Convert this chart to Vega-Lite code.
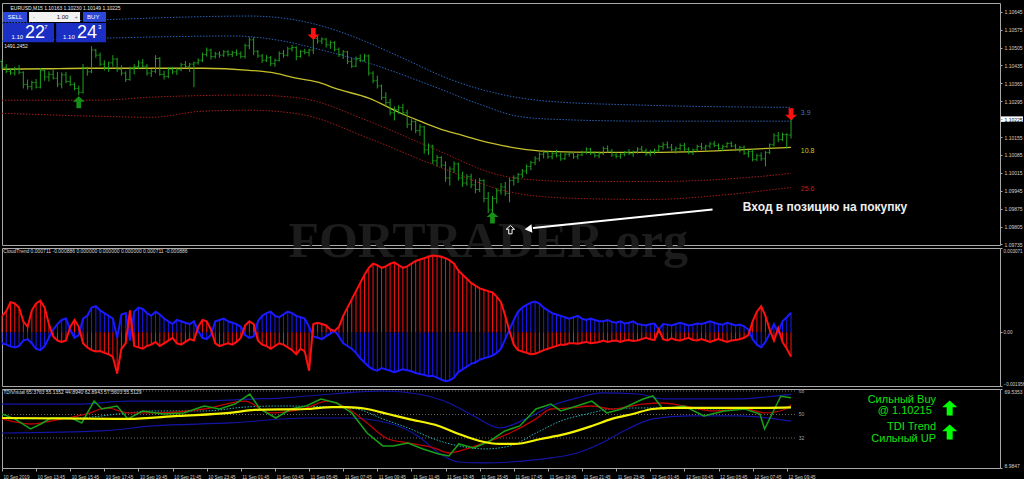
{
"$schema":"https://vega.github.io/schema/vega-lite/v6.json",
"background":"#000000",
"padding":{"left":-3,"top":2,"right":0,"bottom":0},
"spacing":3,
"bounds":"flush",
"config":{"view":{"stroke":"#a8a8a8","strokeWidth":1},"axis":{"labelFont":"Liberation Sans","labelFontSize":5,"labelColor":"#d0d0d0","tickColor":"#a8a8a8","domainColor":"#a8a8a8","grid":false,"tickSize":2,"labelPadding":2,"title":null}},
"datasets":{
"bars":[
{"i":0,"o":1.1045,"h":1.10458,"l":1.1042,"c":1.10428},{"i":1,"o":1.10428,"h":1.1044,"l":1.10405,"c":1.10412},{"i":2,"o":1.10412,"h":1.10425,"l":1.10398,"c":1.10405},{"i":3,"o":1.10405,"h":1.1043,"l":1.10395,"c":1.1042},{"i":4,"o":1.1042,"h":1.10436,"l":1.104,"c":1.10408},{"i":5,"o":1.10408,"h":1.10412,"l":1.10345,"c":1.1036},{"i":6,"o":1.1036,"h":1.1038,"l":1.1034,"c":1.10352},{"i":7,"o":1.10352,"h":1.10375,"l":1.10338,"c":1.10368},{"i":8,"o":1.10368,"h":1.10382,"l":1.10345,"c":1.1035},{"i":9,"o":1.1035,"h":1.10425,"l":1.10345,"c":1.10415},
{"i":10,"o":1.10415,"h":1.1042,"l":1.10375,"c":1.1039},{"i":11,"o":1.1039,"h":1.10412,"l":1.10372,"c":1.104},{"i":12,"o":1.104,"h":1.10418,"l":1.1038,"c":1.10385},{"i":13,"o":1.10385,"h":1.1041,"l":1.1035,"c":1.10362},{"i":14,"o":1.10362,"h":1.10408,"l":1.10345,"c":1.10398},{"i":15,"o":1.10398,"h":1.1041,"l":1.10365,"c":1.10372},{"i":16,"o":1.10372,"h":1.10395,"l":1.10355,"c":1.1036},{"i":17,"o":1.1036,"h":1.10368,"l":1.10338,"c":1.10345},{"i":18,"o":1.10345,"h":1.10356,"l":1.10318,"c":1.1033},{"i":19,"o":1.1033,"h":1.1044,"l":1.10325,"c":1.10425},
{"i":20,"o":1.10425,"h":1.1043,"l":1.10395,"c":1.1041},{"i":21,"o":1.1041,"h":1.1051,"l":1.10405,"c":1.10495},{"i":22,"o":1.10495,"h":1.105,"l":1.10465,"c":1.10475},{"i":23,"o":1.10475,"h":1.10485,"l":1.10432,"c":1.1044},{"i":24,"o":1.1044,"h":1.10455,"l":1.10415,"c":1.10425},{"i":25,"o":1.10425,"h":1.1045,"l":1.1041,"c":1.10445},{"i":26,"o":1.10445,"h":1.10475,"l":1.1043,"c":1.1046},{"i":27,"o":1.1046,"h":1.10465,"l":1.1041,"c":1.1042},{"i":28,"o":1.1042,"h":1.10435,"l":1.10395,"c":1.10405},{"i":29,"o":1.10405,"h":1.10412,"l":1.1037,"c":1.1038},
{"i":30,"o":1.1038,"h":1.1043,"l":1.10375,"c":1.10422},{"i":31,"o":1.10422,"h":1.1044,"l":1.104,"c":1.1043},{"i":32,"o":1.1043,"h":1.10455,"l":1.1042,"c":1.10445},{"i":33,"o":1.10445,"h":1.1046,"l":1.10425,"c":1.10432},{"i":34,"o":1.10432,"h":1.1044,"l":1.10395,"c":1.10405},{"i":35,"o":1.10405,"h":1.1042,"l":1.1039,"c":1.10412},{"i":36,"o":1.10412,"h":1.10475,"l":1.10405,"c":1.10462},{"i":37,"o":1.10462,"h":1.10468,"l":1.10395,"c":1.104},{"i":38,"o":1.104,"h":1.10415,"l":1.1038,"c":1.10392},{"i":39,"o":1.10392,"h":1.10428,"l":1.10385,"c":1.1042},
{"i":40,"o":1.1042,"h":1.1043,"l":1.104,"c":1.1041},{"i":41,"o":1.1041,"h":1.10425,"l":1.10398,"c":1.10418},{"i":42,"o":1.10418,"h":1.10445,"l":1.10412,"c":1.10438},{"i":43,"o":1.10438,"h":1.10452,"l":1.10425,"c":1.1043},{"i":44,"o":1.1043,"h":1.10445,"l":1.1041,"c":1.1044},{"i":45,"o":1.1044,"h":1.1045,"l":1.1035,"c":1.10445},{"i":46,"o":1.10445,"h":1.10462,"l":1.10438,"c":1.10455},{"i":47,"o":1.10455,"h":1.10485,"l":1.10448,"c":1.10478},{"i":48,"o":1.10478,"h":1.10505,"l":1.1047,"c":1.10495},{"i":49,"o":1.10495,"h":1.105,"l":1.10458,"c":1.1047},
{"i":50,"o":1.1047,"h":1.10488,"l":1.10462,"c":1.1048},{"i":51,"o":1.1048,"h":1.1049,"l":1.10465,"c":1.10475},{"i":52,"o":1.10475,"h":1.10495,"l":1.10468,"c":1.10488},{"i":53,"o":1.10488,"h":1.10495,"l":1.1047,"c":1.10478},{"i":54,"o":1.10478,"h":1.10492,"l":1.10468,"c":1.10485},{"i":55,"o":1.10485,"h":1.10498,"l":1.10472,"c":1.1048},{"i":56,"o":1.1048,"h":1.1049,"l":1.10462,"c":1.1047},{"i":57,"o":1.1047,"h":1.1052,"l":1.10462,"c":1.10512},{"i":58,"o":1.10512,"h":1.10545,"l":1.10498,"c":1.10535},{"i":59,"o":1.10535,"h":1.10545,"l":1.10475,"c":1.1049},
{"i":60,"o":1.1049,"h":1.10495,"l":1.10465,"c":1.10472},{"i":61,"o":1.10472,"h":1.1048,"l":1.10445,"c":1.10455},{"i":62,"o":1.10455,"h":1.10475,"l":1.10448,"c":1.10465},{"i":63,"o":1.10465,"h":1.10472,"l":1.10432,"c":1.10442},{"i":64,"o":1.10442,"h":1.10462,"l":1.1043,"c":1.10455},{"i":65,"o":1.10455,"h":1.1049,"l":1.1045,"c":1.10482},{"i":66,"o":1.10482,"h":1.10495,"l":1.10465,"c":1.10475},{"i":67,"o":1.10475,"h":1.10508,"l":1.1047,"c":1.105},{"i":68,"o":1.105,"h":1.10515,"l":1.1049,"c":1.10505},{"i":69,"o":1.10505,"h":1.1051,"l":1.10455,"c":1.1047},
{"i":70,"o":1.1047,"h":1.10495,"l":1.10465,"c":1.1049},{"i":71,"o":1.1049,"h":1.105,"l":1.10478,"c":1.10485},{"i":72,"o":1.10485,"h":1.105,"l":1.1047,"c":1.10495},{"i":73,"o":1.10495,"h":1.10545,"l":1.1048,"c":1.1054},{"i":74,"o":1.1054,"h":1.10552,"l":1.1052,"c":1.1053},{"i":75,"o":1.1053,"h":1.10545,"l":1.10518,"c":1.10538},{"i":76,"o":1.10538,"h":1.10542,"l":1.10505,"c":1.10515},{"i":77,"o":1.10515,"h":1.10532,"l":1.105,"c":1.10525},{"i":78,"o":1.10525,"h":1.1053,"l":1.1049,"c":1.10498},{"i":79,"o":1.10498,"h":1.10505,"l":1.10468,"c":1.10478},
{"i":80,"o":1.10478,"h":1.10495,"l":1.1046,"c":1.10488},{"i":81,"o":1.10488,"h":1.10492,"l":1.1044,"c":1.1045},{"i":82,"o":1.1045,"h":1.10465,"l":1.10425,"c":1.10432},{"i":83,"o":1.10432,"h":1.1047,"l":1.10428,"c":1.10462},{"i":84,"o":1.10462,"h":1.10478,"l":1.10448,"c":1.10455},{"i":85,"o":1.10455,"h":1.1048,"l":1.1045,"c":1.10472},{"i":86,"o":1.10472,"h":1.10478,"l":1.10395,"c":1.10405},{"i":87,"o":1.10405,"h":1.10412,"l":1.10365,"c":1.10375},{"i":88,"o":1.10375,"h":1.10395,"l":1.10345,"c":1.10355},{"i":89,"o":1.10355,"h":1.1036,"l":1.103,"c":1.1031},
{"i":90,"o":1.1031,"h":1.1033,"l":1.10275,"c":1.1029},{"i":91,"o":1.1029,"h":1.10305,"l":1.1024,"c":1.1025},{"i":92,"o":1.1025,"h":1.10275,"l":1.1022,"c":1.10262},{"i":93,"o":1.10262,"h":1.1028,"l":1.10245,"c":1.1027},{"i":94,"o":1.1027,"h":1.10285,"l":1.1024,"c":1.1025},{"i":95,"o":1.1025,"h":1.10262,"l":1.1019,"c":1.10205},{"i":96,"o":1.10205,"h":1.10225,"l":1.1018,"c":1.10215},{"i":97,"o":1.10215,"h":1.1022,"l":1.1017,"c":1.1018},{"i":98,"o":1.1018,"h":1.10205,"l":1.1016,"c":1.10195},{"i":99,"o":1.10195,"h":1.10198,"l":1.1009,"c":1.10105},
{"i":100,"o":1.10105,"h":1.1013,"l":1.10085,"c":1.1012},{"i":101,"o":1.1012,"h":1.10125,"l":1.1005,"c":1.10062},{"i":102,"o":1.10062,"h":1.10085,"l":1.1004,"c":1.10075},{"i":103,"o":1.10075,"h":1.1008,"l":1.10035,"c":1.10045},{"i":104,"o":1.10045,"h":1.1006,"l":1.0998,"c":1.09995},{"i":105,"o":1.09995,"h":1.1004,"l":1.09965,"c":1.1003},{"i":106,"o":1.1003,"h":1.1006,"l":1.10015,"c":1.1005},{"i":107,"o":1.1005,"h":1.10055,"l":1.09985,"c":1.09995},{"i":108,"o":1.09995,"h":1.1002,"l":1.0996,"c":1.09975},{"i":109,"o":1.09975,"h":1.1001,"l":1.09965,"c":1.1},
{"i":110,"o":1.1,"h":1.10012,"l":1.09955,"c":1.09968},{"i":111,"o":1.09968,"h":1.0999,"l":1.09935,"c":1.0995},{"i":112,"o":1.0995,"h":1.09995,"l":1.0994,"c":1.09985},{"i":113,"o":1.09985,"h":1.0999,"l":1.099,"c":1.09915},{"i":114,"o":1.09915,"h":1.0994,"l":1.09858,"c":1.0987},{"i":115,"o":1.0987,"h":1.09925,"l":1.09862,"c":1.09915},{"i":116,"o":1.09915,"h":1.09955,"l":1.09895,"c":1.09945},{"i":117,"o":1.09945,"h":1.09975,"l":1.0993,"c":1.0996},{"i":118,"o":1.0996,"h":1.0998,"l":1.09925,"c":1.09935},{"i":119,"o":1.09935,"h":1.09995,"l":1.099,"c":1.09985},
{"i":120,"o":1.09985,"h":1.10005,"l":1.09965,"c":1.09995},{"i":121,"o":1.09995,"h":1.10015,"l":1.09975,"c":1.10008},{"i":122,"o":1.10008,"h":1.1003,"l":1.09995,"c":1.10022},{"i":123,"o":1.10022,"h":1.10048,"l":1.1001,"c":1.1004},{"i":124,"o":1.1004,"h":1.10062,"l":1.10025,"c":1.10055},{"i":125,"o":1.10055,"h":1.1008,"l":1.10045,"c":1.1007},{"i":126,"o":1.1007,"h":1.10095,"l":1.1006,"c":1.10088},{"i":127,"o":1.10088,"h":1.10105,"l":1.10072,"c":1.10095},{"i":128,"o":1.10095,"h":1.10102,"l":1.1007,"c":1.10078},{"i":129,"o":1.10078,"h":1.10098,"l":1.10068,"c":1.1009},
{"i":130,"o":1.1009,"h":1.10105,"l":1.10075,"c":1.10082},{"i":131,"o":1.10082,"h":1.10095,"l":1.10062,"c":1.1007},{"i":132,"o":1.1007,"h":1.10092,"l":1.10065,"c":1.10088},{"i":133,"o":1.10088,"h":1.101,"l":1.10078,"c":1.10092},{"i":134,"o":1.10092,"h":1.10098,"l":1.1007,"c":1.10078},{"i":135,"o":1.10078,"h":1.1009,"l":1.10068,"c":1.10085},{"i":136,"o":1.10085,"h":1.10102,"l":1.1008,"c":1.10095},{"i":137,"o":1.10095,"h":1.10115,"l":1.10088,"c":1.10108},{"i":138,"o":1.10108,"h":1.10112,"l":1.10085,"c":1.10092},{"i":139,"o":1.10092,"h":1.101,"l":1.10075,"c":1.10082},
{"i":140,"o":1.10082,"h":1.10098,"l":1.10072,"c":1.1009},{"i":141,"o":1.1009,"h":1.10118,"l":1.10085,"c":1.1011},{"i":142,"o":1.1011,"h":1.10122,"l":1.10095,"c":1.101},{"i":143,"o":1.101,"h":1.10108,"l":1.10078,"c":1.10085},{"i":144,"o":1.10085,"h":1.10095,"l":1.10072,"c":1.1008},{"i":145,"o":1.1008,"h":1.10092,"l":1.1007,"c":1.10088},{"i":146,"o":1.10088,"h":1.101,"l":1.1008,"c":1.10095},{"i":147,"o":1.10095,"h":1.10108,"l":1.10085,"c":1.1009},{"i":148,"o":1.1009,"h":1.10102,"l":1.10078,"c":1.10098},{"i":149,"o":1.10098,"h":1.10115,"l":1.1009,"c":1.10108},
{"i":150,"o":1.10108,"h":1.1012,"l":1.10095,"c":1.101},{"i":151,"o":1.101,"h":1.1011,"l":1.10082,"c":1.1009},{"i":152,"o":1.1009,"h":1.10105,"l":1.1008,"c":1.10098},{"i":153,"o":1.10098,"h":1.1011,"l":1.10088,"c":1.10102},{"i":154,"o":1.10102,"h":1.10125,"l":1.10095,"c":1.10118},{"i":155,"o":1.10118,"h":1.10135,"l":1.10105,"c":1.10125},{"i":156,"o":1.10125,"h":1.10138,"l":1.1011,"c":1.10115},{"i":157,"o":1.10115,"h":1.10128,"l":1.10098,"c":1.10105},{"i":158,"o":1.10105,"h":1.10118,"l":1.1009,"c":1.1011},{"i":159,"o":1.1011,"h":1.1013,"l":1.10102,"c":1.10122},
{"i":160,"o":1.10122,"h":1.10132,"l":1.101,"c":1.10108},{"i":161,"o":1.10108,"h":1.10115,"l":1.10088,"c":1.10095},{"i":162,"o":1.10095,"h":1.1011,"l":1.10085,"c":1.10105},{"i":163,"o":1.10105,"h":1.10125,"l":1.10098,"c":1.10118},{"i":164,"o":1.10118,"h":1.10132,"l":1.10105,"c":1.10112},{"i":165,"o":1.10112,"h":1.10125,"l":1.101,"c":1.1012},{"i":166,"o":1.1012,"h":1.10135,"l":1.1011,"c":1.10128},{"i":167,"o":1.10128,"h":1.1014,"l":1.10115,"c":1.10122},{"i":168,"o":1.10122,"h":1.1013,"l":1.10105,"c":1.1011},{"i":169,"o":1.1011,"h":1.10125,"l":1.101,"c":1.10118},
{"i":170,"o":1.10118,"h":1.10135,"l":1.10112,"c":1.1013},{"i":171,"o":1.1013,"h":1.10138,"l":1.10115,"c":1.1012},{"i":172,"o":1.1012,"h":1.10128,"l":1.101,"c":1.10108},{"i":173,"o":1.10108,"h":1.1012,"l":1.10095,"c":1.10115},{"i":174,"o":1.10115,"h":1.10122,"l":1.10085,"c":1.10092},{"i":175,"o":1.10092,"h":1.10105,"l":1.10075,"c":1.10098},{"i":176,"o":1.10098,"h":1.10108,"l":1.1006,"c":1.10068},{"i":177,"o":1.10068,"h":1.1009,"l":1.1006,"c":1.10082},{"i":178,"o":1.10082,"h":1.10095,"l":1.10062,"c":1.1007},{"i":179,"o":1.1007,"h":1.101,"l":1.1004,"c":1.10095},
{"i":180,"o":1.10095,"h":1.1013,"l":1.10088,"c":1.10125},{"i":181,"o":1.10125,"h":1.1017,"l":1.10118,"c":1.1016},{"i":182,"o":1.1016,"h":1.10175,"l":1.10135,"c":1.10145},{"i":183,"o":1.10145,"h":1.10172,"l":1.1014,"c":1.10165},{"i":184,"o":1.10165,"h":1.1017,"l":1.1011,"c":1.10163},{"i":185,"o":1.10163,"h":1.1023,"l":1.10149,"c":1.10225}
],
"ma":[{"i":0,"p":1.1042},{"i":10,"p":1.10422},{"i":20,"p":1.10424},{"i":30,"p":1.10424},{"i":40,"p":1.10424},{"i":47,"p":1.10424},{"i":58,"p":1.10416},{"i":64,"p":1.10405},{"i":69,"p":1.10385},{"i":75,"p":1.10365},{"i":78,"p":1.10346},{"i":86,"p":1.10307},{"i":93,"p":1.10252},{"i":98,"p":1.10217},{"i":103,"p":1.10185},{"i":107,"p":1.10166},{"i":115,"p":1.1013},{"i":121,"p":1.10111},{"i":128,"p":1.10099},{"i":140,"p":1.10095},{"i":152,"p":1.10095},{"i":164,"p":1.10099},{"i":175,"p":1.10107},{"i":185,"p":1.10115}],
"u2":[{"i":0,"p":1.10601},{"i":23,"p":1.10613},{"i":35,"p":1.1062},{"i":58,"p":1.10628},{"i":70,"p":1.10609},{"i":75,"p":1.10589},{"i":82,"p":1.1055},{"i":93,"p":1.10471},{"i":105,"p":1.10381},{"i":117,"p":1.10322},{"i":128,"p":1.10295},{"i":152,"p":1.10279},{"i":185,"p":1.10271}],
"u1":[{"i":0,"p":1.1053},{"i":25,"p":1.10542},{"i":35,"p":1.10546},{"i":54,"p":1.1055},{"i":66,"p":1.1053},{"i":74,"p":1.10499},{"i":86,"p":1.10444},{"i":101,"p":1.10354},{"i":112,"p":1.10283},{"i":121,"p":1.10236},{"i":130,"p":1.10224},{"i":152,"p":1.10217},{"i":185,"p":1.10217}],
"l1":[{"i":0,"p":1.10299},{"i":23,"p":1.10299},{"i":35,"p":1.10311},{"i":58,"p":1.10319},{"i":70,"p":1.10307},{"i":86,"p":1.10217},{"i":101,"p":1.10111},{"i":117,"p":1.10005},{"i":121,"p":1.09993},{"i":135,"p":1.09981},{"i":152,"p":1.09981},{"i":175,"p":1.09997},{"i":185,"p":1.10013}],
"l2":[{"i":0,"p":1.10248},{"i":23,"p":1.10236},{"i":35,"p":1.10232},{"i":47,"p":1.10256},{"i":58,"p":1.1026},{"i":70,"p":1.10244},{"i":86,"p":1.1015},{"i":101,"p":1.10048},{"i":121,"p":1.09934},{"i":135,"p":1.09915},{"i":152,"p":1.09911},{"i":170,"p":1.0993},{"i":185,"p":1.09958}],
"ct":[
{"i":0,"r":0.00059,"b":-0.0004},{"i":1,"r":0.00077,"b":-0.00045},{"i":2,"r":0.0011,"b":-0.00051},{"i":3,"r":0.00105,"b":-0.00055},{"i":4,"r":0.0009,"b":-0.0005},{"i":5,"r":0.0004,"b":-0.0003},{"i":6,"r":0.0002,"b":-0.00025},{"i":7,"r":0.0008,"b":-0.0004},{"i":8,"r":0.00105,"b":-0.0006},{"i":9,"r":0.00115,"b":-0.00065},
{"i":10,"r":0.0009,"b":-0.0005},{"i":11,"r":0.0003,"b":-0.0002},{"i":12,"r":-0.00015,"b":0.0001},{"i":13,"r":-0.0003,"b":0.0003},{"i":14,"r":-0.00035,"b":0.00045},{"i":15,"r":-0.0003,"b":0.0005},{"i":16,"r":0.0002,"b":0.0001},{"i":17,"r":0.00045,"b":-0.0002},{"i":18,"r":0.0002,"b":-0.0001},{"i":19,"r":-0.0004,"b":0.0005},
{"i":20,"r":-0.00055,"b":0.0006},{"i":21,"r":-0.00065,"b":0.0009},{"i":22,"r":-0.0007,"b":0.00095},{"i":23,"r":-0.00068,"b":0.0008},{"i":24,"r":-0.00075,"b":0.0007},{"i":25,"r":-0.0008,"b":0.0006},{"i":26,"r":-0.0009,"b":0.0005},{"i":27,"r":-0.0015,"b":-0.0002},{"i":28,"r":-0.0006,"b":0.00065},{"i":29,"r":-0.0004,"b":0.0007},
{"i":30,"r":0.0008,"b":-0.0003},{"i":31,"r":-0.0005,"b":0.00075},{"i":32,"r":-0.00055,"b":0.0009},{"i":33,"r":-0.0006,"b":0.00085},{"i":34,"r":-0.0005,"b":0.0007},{"i":35,"r":-0.00045,"b":0.0006},{"i":36,"r":-0.00035,"b":0.00075},{"i":37,"r":-0.0005,"b":0.00065},{"i":38,"r":-0.0004,"b":0.0005},{"i":39,"r":-0.0003,"b":0.0004},
{"i":40,"r":-0.0002,"b":0.0003},{"i":41,"r":-0.0004,"b":0.00045},{"i":42,"r":-0.00045,"b":0.0004},{"i":43,"r":-0.00035,"b":0.00035},{"i":44,"r":-0.00025,"b":0.0003},{"i":45,"r":-0.0003,"b":0.0004},{"i":46,"r":0.0002,"b":0.00005},{"i":47,"r":0.00045,"b":-0.0002},{"i":48,"r":0.0004,"b":-0.00025},{"i":49,"r":0.0001,"b":-0.0001},
{"i":50,"r":-0.0004,"b":0.0004},{"i":51,"r":-0.0005,"b":0.00045},{"i":52,"r":-0.00045,"b":0.0005},{"i":53,"r":-0.0004,"b":0.0004},{"i":54,"r":-0.00045,"b":0.00035},{"i":55,"r":-0.00035,"b":0.0003},{"i":56,"r":-0.0002,"b":0.0002},{"i":57,"r":0.00025,"b":-0.0001},{"i":58,"r":0.0004,"b":-0.0002},{"i":59,"r":0.0003,"b":-0.00015},
{"i":60,"r":-0.0003,"b":0.0004},{"i":61,"r":-0.00045,"b":0.0006},{"i":62,"r":-0.0005,"b":0.0007},{"i":63,"r":-0.0006,"b":0.00075},{"i":64,"r":-0.0005,"b":0.0006},{"i":65,"r":-0.0004,"b":0.00055},{"i":66,"r":-0.00045,"b":0.00065},{"i":67,"r":-0.00055,"b":0.00075},{"i":68,"r":-0.00065,"b":0.0007},{"i":69,"r":-0.0008,"b":0.0006},
{"i":70,"r":-0.0006,"b":0.00055},{"i":71,"r":-0.0007,"b":0.0005},{"i":72,"r":-0.0014,"b":0.0002},{"i":73,"r":0.0003,"b":-0.00015},{"i":74,"r":0.00035,"b":-0.0002},{"i":75,"r":0.0003,"b":-0.00025},{"i":76,"r":0.00025,"b":-0.00015},{"i":77,"r":0.0001,"b":-0.00005},{"i":78,"r":0.00005,"b":0.00005},{"i":79,"r":0.0002,"b":-0.00015},
{"i":80,"r":0.0006,"b":-0.0004},{"i":81,"r":0.0009,"b":-0.0005},{"i":82,"r":0.0012,"b":-0.0006},{"i":83,"r":0.0015,"b":-0.00075},{"i":84,"r":0.0018,"b":-0.00095},{"i":85,"r":0.0021,"b":-0.0011},{"i":86,"r":0.00235,"b":-0.00125},{"i":87,"r":0.0025,"b":-0.00135},{"i":88,"r":0.00245,"b":-0.0014},{"i":89,"r":0.00235,"b":-0.0013},
{"i":90,"r":0.0024,"b":-0.00135},{"i":91,"r":0.0025,"b":-0.0014},{"i":92,"r":0.00255,"b":-0.00145},{"i":93,"r":0.00245,"b":-0.0014},{"i":94,"r":0.00235,"b":-0.00135},{"i":95,"r":0.0024,"b":-0.00138},{"i":96,"r":0.0025,"b":-0.00142},{"i":97,"r":0.0026,"b":-0.00148},{"i":98,"r":0.00265,"b":-0.00152},{"i":99,"r":0.0027,"b":-0.00155},
{"i":100,"r":0.00275,"b":-0.0016},{"i":101,"r":0.0028,"b":-0.00158},{"i":102,"r":0.00278,"b":-0.00165},{"i":103,"r":0.00275,"b":-0.00172},{"i":104,"r":0.0027,"b":-0.00178},{"i":105,"r":0.00262,"b":-0.00175},{"i":106,"r":0.0025,"b":-0.00165},{"i":107,"r":0.00225,"b":-0.00145},{"i":108,"r":0.0021,"b":-0.00135},{"i":109,"r":0.00195,"b":-0.00125},
{"i":110,"r":0.0018,"b":-0.00115},{"i":111,"r":0.0017,"b":-0.0011},{"i":112,"r":0.0016,"b":-0.001},{"i":113,"r":0.00155,"b":-0.00095},{"i":114,"r":0.0015,"b":-0.0009},{"i":115,"r":0.00145,"b":-0.00085},{"i":116,"r":0.0013,"b":-0.00075},{"i":117,"r":0.0011,"b":-0.0006},{"i":118,"r":0.0006,"b":-0.00025},{"i":119,"r":0.00005,"b":0.0001},
{"i":120,"r":-0.00045,"b":0.00045},{"i":121,"r":-0.00065,"b":0.00075},{"i":122,"r":-0.0007,"b":0.0009},{"i":123,"r":-0.00075,"b":0.001},{"i":124,"r":-0.0008,"b":0.00108},{"i":125,"r":-0.00078,"b":0.00112},{"i":126,"r":-0.00072,"b":0.00105},{"i":127,"r":-0.00065,"b":0.0009},{"i":128,"r":-0.0006,"b":0.0008},{"i":129,"r":-0.00055,"b":0.0007},
{"i":130,"r":-0.0005,"b":0.00065},{"i":131,"r":-0.00045,"b":0.0006},{"i":132,"r":-0.00045,"b":0.00055},{"i":133,"r":-0.0004,"b":0.0005},{"i":134,"r":-0.0004,"b":0.00055},{"i":135,"r":-0.00042,"b":0.0006},{"i":136,"r":-0.00038,"b":0.0005},{"i":137,"r":-0.00035,"b":0.00045},{"i":138,"r":-0.0004,"b":0.0005},{"i":139,"r":-0.00038,"b":0.00045},
{"i":140,"r":-0.00035,"b":0.0004},{"i":141,"r":-0.0003,"b":0.0004},{"i":142,"r":-0.00035,"b":0.00045},{"i":143,"r":-0.00032,"b":0.00038},{"i":144,"r":-0.0003,"b":0.00035},{"i":145,"r":-0.00035,"b":0.0004},{"i":146,"r":-0.0003,"b":0.00032},{"i":147,"r":-0.00028,"b":0.00035},{"i":148,"r":-0.00032,"b":0.0004},{"i":149,"r":-0.0003,"b":0.0003},
{"i":150,"r":-0.00025,"b":0.00028},{"i":151,"r":-0.0002,"b":0.00025},{"i":152,"r":-0.00025,"b":0.0003},{"i":153,"r":-0.00028,"b":0.00032},{"i":154,"r":0.0001,"b":0.0001},{"i":155,"r":-0.00025,"b":0.0003},{"i":156,"r":-0.0003,"b":0.00028},{"i":157,"r":-0.00022,"b":0.00025},{"i":158,"r":-0.00028,"b":0.0003},{"i":159,"r":-0.0003,"b":0.00035},
{"i":160,"r":-0.00025,"b":0.0003},{"i":161,"r":-0.0002,"b":0.00025},{"i":162,"r":-0.00028,"b":0.00028},{"i":163,"r":-0.0003,"b":0.00032},{"i":164,"r":-0.00025,"b":0.0003},{"i":165,"r":-0.0003,"b":0.00035},{"i":166,"r":-0.00035,"b":0.0004},{"i":167,"r":-0.0003,"b":0.00035},{"i":168,"r":-0.00025,"b":0.0003},{"i":169,"r":-0.0003,"b":0.00028},
{"i":170,"r":-0.00035,"b":0.00035},{"i":171,"r":-0.0003,"b":0.0003},{"i":172,"r":-0.00028,"b":0.00025},{"i":173,"r":-0.00025,"b":0.00028},{"i":174,"r":-0.0002,"b":0.00022},{"i":175,"r":-0.0001,"b":0.0001},{"i":176,"r":0.0004,"b":-0.00025},{"i":177,"r":0.00075,"b":-0.00045},{"i":178,"r":0.00095,"b":-0.00055},{"i":179,"r":0.0006,"b":-0.00035},
{"i":180,"r":0.0001,"b":-0.00005},{"i":181,"r":-0.0003,"b":0.0003},{"i":182,"r":0.00015,"b":0},{"i":183,"r":-0.00035,"b":0.0004},{"i":184,"r":-0.0006,"b":0.00055},{"i":185,"r":-0.000886,"b":0.000711}
],
"tup":[{"i":0,"v":58},{"i":17.6,"v":58},{"i":29.5,"v":60.3},{"i":45,"v":60.3},{"i":59.3,"v":61.9},{"i":65.2,"v":62.6},{"i":77.4,"v":65.7},{"i":89.3,"v":68},{"i":97.5,"v":65.7},{"i":104.8,"v":58.8},{"i":110.6,"v":48.9},{"i":116.7,"v":39.7},{"i":122.8,"v":46.6},{"i":128.7,"v":56.5},{"i":134.8,"v":62.6},{"i":140.6,"v":66.5},{"i":149.1,"v":65.7},{"i":155,"v":61.9},{"i":173,"v":61.9},{"i":181.4,"v":64.2},{"i":185,"v":65.4}],
"tlo":[{"i":0,"v":35.8},{"i":23.4,"v":37.4},{"i":35.4,"v":41.2},{"i":53.4,"v":43.5},{"i":71.3,"v":47.3},{"i":80.9,"v":47.3},{"i":90.5,"v":43.5},{"i":97.5,"v":33.5},{"i":102.4,"v":20.5},{"i":107.1,"v":13.6},{"i":113.2,"v":12.9},{"i":119.1,"v":13.6},{"i":128.7,"v":16.7},{"i":134.8,"v":20.5},{"i":140.6,"v":28.2},{"i":146.7,"v":38.9},{"i":152.6,"v":46.6},{"i":161,"v":48.9},{"i":173,"v":48.9},{"i":185,"v":44.9}],
"tteal":[{"i":0,"v":46.6},{"i":17.6,"v":47.3},{"i":29.5,"v":51.2},{"i":35.4,"v":52.7},{"i":47.4,"v":52.7},{"i":57,"v":55.7},{"i":65.2,"v":56.5},{"i":77.4,"v":55.7},{"i":83.2,"v":54.2},{"i":89.3,"v":46.6},{"i":95.2,"v":39.7},{"i":101.3,"v":31.2},{"i":107.1,"v":25.9},{"i":113.2,"v":23.6},{"i":119.1,"v":25.9},{"i":125.2,"v":35.8},{"i":131,"v":45},{"i":137.1,"v":50.4},{"i":143,"v":54.2},{"i":149.1,"v":55},{"i":155,"v":55},{"i":164.6,"v":54.2},{"i":185,"v":55.1}],
"tred":[{"i":0,"v":46.6},{"i":6.7,"v":42.7},{"i":11.5,"v":45},{"i":19.9,"v":50.4},{"i":24.6,"v":55},{"i":29.5,"v":51.2},{"i":35.4,"v":51.2},{"i":47.4,"v":54.2},{"i":57,"v":60.3},{"i":62.8,"v":51.2},{"i":71.3,"v":55},{"i":76.2,"v":60.3},{"i":80.9,"v":55},{"i":85.6,"v":43.5},{"i":90.5,"v":31.2},{"i":95.2,"v":28.2},{"i":101.3,"v":24.3},{"i":104.8,"v":20.5},{"i":109.5,"v":24.3},{"i":114.4,"v":29.7},{"i":119.1,"v":35.8},{"i":125.2,"v":46.6},{"i":128.7,"v":54.2},{"i":133.4,"v":55},{"i":138.3,"v":56.5},{"i":143,"v":54.2},{"i":150.3,"v":58},{"i":155,"v":58.8},{"i":159.9,"v":56.5},{"i":166.9,"v":52.7},{"i":174.2,"v":54.2},{"i":178.8,"v":51.2},{"i":183.8,"v":54.2},{"i":185,"v":57.6}],
"tgreen":[{"i":0,"v":50.4},{"i":3,"v":46.6},{"i":6.7,"v":38.9},{"i":9.1,"v":42.7},{"i":11.5,"v":47.3},{"i":16.3,"v":47.3},{"i":18.7,"v":43.5},{"i":21.6,"v":60.3},{"i":23.4,"v":54.2},{"i":27,"v":56.5},{"i":29.5,"v":46.6},{"i":33,"v":52.7},{"i":37.8,"v":50.4},{"i":42.6,"v":51.2},{"i":47.4,"v":56.5},{"i":51,"v":54.2},{"i":54.6,"v":58},{"i":58.1,"v":65.7},{"i":60.5,"v":54.2},{"i":64.2,"v":47.3},{"i":67.7,"v":54.2},{"i":71.3,"v":56.5},{"i":74.8,"v":61.9},{"i":78.5,"v":58.8},{"i":82,"v":51.2},{"i":85.6,"v":35.8},{"i":89.3,"v":25.9},{"i":91.7,"v":25.9},{"i":95.2,"v":28.2},{"i":98.7,"v":23.6},{"i":102.4,"v":19.7},{"i":104.8,"v":18.2},{"i":107.1,"v":27.4},{"i":110.6,"v":24.3},{"i":114.4,"v":29.7},{"i":117.9,"v":37.4},{"i":121.4,"v":41.2},{"i":125.2,"v":54.2},{"i":128.7,"v":58},{"i":131,"v":52.7},{"i":134.8,"v":56.5},{"i":138.3,"v":60.3},{"i":141.8,"v":51.2},{"i":145.3,"v":54.2},{"i":150.3,"v":61.9},{"i":152.6,"v":64.2},{"i":155,"v":54.2},{"i":159.9,"v":56.5},{"i":164.6,"v":48.9},{"i":169.3,"v":52.7},{"i":174.2,"v":54.2},{"i":177.7,"v":50.4},{"i":178.8,"v":38.9},{"i":182.6,"v":64},{"i":185,"v":62.9}],
"tyel":[{"i":0,"v":47.3},{"i":29.5,"v":46.6},{"i":41.3,"v":48.9},{"i":53.4,"v":51.2},{"i":59.3,"v":53.5},{"i":71.3,"v":54.2},{"i":77.4,"v":55.7},{"i":80.9,"v":55.7},{"i":85.6,"v":54.2},{"i":90.5,"v":50.4},{"i":95.2,"v":46.6},{"i":102.4,"v":41.2},{"i":107.1,"v":35.1},{"i":112,"v":29.7},{"i":116.7,"v":27.4},{"i":120.3,"v":27.4},{"i":126.3,"v":31.2},{"i":132.2,"v":35.1},{"i":138.3,"v":41.2},{"i":143,"v":46.6},{"i":147.9,"v":50.4},{"i":152.6,"v":54.2},{"i":157.3,"v":55},{"i":166.9,"v":55},{"i":174.2,"v":55},{"i":185,"v":55.5}]
},
"vconcat":[
{
"width":998,"height":242,
"resolve":{"scale":{"color":"independent","shape":"independent","size":"independent"}},
"encoding":{
"x":{"field":"i","type":"quantitative","scale":{"domain":[0,234],"nice":false,"zero":false},"axis":null},
"y":{"field":"p","type":"quantitative","scale":{"domain":[1.09733,1.10679],"nice":false,"zero":false},"axis":{"orient":"right","values":[1.09735,1.09805,1.09875,1.09945,1.10015,1.10085,1.10155,1.10225,1.10295,1.10365,1.10435,1.10505,1.10575,1.10645],"format":".5f","labelColor":{"condition":{"test":"datum.value == 1.10225","value":"#000000"},"value":"#d0d0d0"},"zindex":1,"domain":false}}
},
"layer":[
{"data":{"values":[{"i":114,"p":1.09746,"t":"FORTRADER.org"}]},"mark":{"type":"text","font":"Liberation Serif","fontSize":50,"fontWeight":"bold","color":"#1c1c1c","align":"center","baseline":"middle"},"encoding":{"text":{"field":"t"}}},
{"data":{"name":"u2"},"mark":{"type":"line","color":"#2a62b8","strokeWidth":1,"strokeDash":[1.5,1.5],"interpolate":"monotone"}},
{"data":{"name":"u1"},"mark":{"type":"line","color":"#2a62b8","strokeWidth":1,"strokeDash":[1.5,1.5],"interpolate":"monotone"}},
{"data":{"name":"l1"},"mark":{"type":"line","color":"#a01c1c","strokeWidth":1,"strokeDash":[1.5,1.5],"interpolate":"monotone"}},
{"data":{"name":"l2"},"mark":{"type":"line","color":"#a01c1c","strokeWidth":1,"strokeDash":[1.5,1.5],"interpolate":"monotone"}},
{"data":{"name":"ma"},"mark":{"type":"line","color":"#c4bf2a","strokeWidth":1.3,"interpolate":"monotone"}},
{"data":{"name":"bars"},"transform":[{"fold":["h"],"as":["s","p"]}],"mark":{"type":"rule","color":"#1ea51e","strokeWidth":1},"encoding":{"y2":{"field":"l"}}},
{"data":{"name":"bars"},"transform":[{"fold":["o"],"as":["s","p"]}],"mark":{"type":"tick","orient":"horizontal","size":2,"thickness":1,"xOffset":-1,"color":"#1ea51e"}},
{"data":{"name":"bars"},"transform":[{"fold":["c"],"as":["s","p"]}],"mark":{"type":"tick","orient":"horizontal","size":2,"thickness":1,"xOffset":1,"color":"#1ea51e"}},
{"data":{"values":[{"i":18,"p":1.10291,"d":"up"},{"i":115,"p":1.0984,"d":"up"},{"i":73,"p":1.10558,"d":"down"},{"i":185,"p":1.10244,"d":"down"}]},"mark":{"type":"point","filled":true,"size":140,"opacity":1},"encoding":{"shape":{"field":"d","type":"nominal","scale":{"domain":["up","down"],"range":["M0,-1L1,-0.1L0.4,-0.1L0.4,1L-0.4,1L-0.4,-0.1L-1,-0.1Z","M0,1L1,0.1L0.4,0.1L0.4,-1L-0.4,-1L-0.4,0.1L-1,0.1Z"]},"legend":null},"color":{"field":"d","type":"nominal","scale":{"domain":["up","down"],"range":["#168f16","#ff1010"]},"legend":null}}},
{"data":{"values":[{"i":119.2,"p":1.09793}]},"mark":{"type":"point","filled":false,"shape":"M0,-1L1,-0.1L0.4,-0.1L0.4,1L-0.4,1L-0.4,-0.1L-1,-0.1Z","size":70,"color":"#ffffff","strokeWidth":1,"opacity":1}},
{"data":{"values":[{"i":166.6,"p":1.09872,"i2":124.5,"p2":1.09799}]},"mark":{"type":"rule","color":"#ffffff","strokeWidth":2},"encoding":{"x2":{"field":"i2"},"y2":{"field":"p2"}}},
{"data":{"values":[{"i":123.4,"p":1.09796}]},"mark":{"type":"point","shape":"triangle-left","filled":true,"size":70,"angle":354,"color":"#ffffff","opacity":1}},
{"data":{"values":[{"i":173.7,"p":1.09883,"t":"Вход в позицию на покупку"}]},"mark":{"type":"text","font":"Liberation Sans","fontSize":12,"fontWeight":"bold","color":"#eeeeee","align":"left","baseline":"middle"},"encoding":{"text":{"field":"t"}}},
{"data":{"values":[{"i":187.3,"p":1.10248,"t":"3.9","k":"u"},{"i":187.3,"p":1.10099,"t":"10.8","k":"m"},{"i":187.3,"p":1.0995,"t":"25.6","k":"l"}]},"mark":{"type":"text","font":"Liberation Sans","fontSize":7,"align":"left","baseline":"middle"},"encoding":{"text":{"field":"t"},"color":{"field":"k","type":"nominal","scale":{"domain":["u","m","l"],"range":["#3a72d0","#d2cc10","#c02020"]},"legend":null}}},
{"data":{"values":[{"i":0.23,"i2":5.87,"p":1.10644,"p2":1.10605,"k":"btn"},{"i":6.34,"i2":18.3,"p":1.10644,"p2":1.10605,"k":"field"},{"i":19.0,"i2":24.4,"p":1.10644,"p2":1.10605,"k":"btn"},{"i":0.23,"i2":12.2,"p":1.10601,"p2":1.10526,"k":"big"},{"i":12.7,"i2":24.4,"p":1.10601,"p2":1.10526,"k":"big"}]},"mark":{"type":"rect"},"encoding":{"x2":{"field":"i2"},"y2":{"field":"p2"},"color":{"field":"k","type":"nominal","scale":{"domain":["btn","field","big"],"range":["#2c48d8","#f2f2f2","#1c2fc4"]},"legend":null}}},
{"data":{"values":[{"i":3.05,"p":1.10624,"t":"SELL"},{"i":21.4,"p":1.10624,"t":"BUY"},{"i":3.6,"p":1.10548,"t":"1.10"},{"i":10.3,"p":1.10584,"t":"7"},{"i":15.7,"p":1.10548,"t":"1.10"},{"i":22.9,"p":1.10584,"t":"3"}]},"mark":{"type":"text","font":"Liberation Sans","fontSize":6,"color":"#ffffff","align":"center","baseline":"middle"},"encoding":{"text":{"field":"t"}}},
{"data":{"values":[{"i":14.2,"p":1.10624,"t":"1.00"}]},"mark":{"type":"text","font":"Liberation Sans","fontSize":6,"color":"#111111","align":"center","baseline":"middle"},"encoding":{"text":{"field":"t"}}},
{"data":{"values":[{"i":7.5,"p":1.10624,"t":"-"},{"i":17.4,"p":1.10624,"t":"+"}]},"mark":{"type":"text","font":"Liberation Sans","fontSize":6,"color":"#777777","align":"center","baseline":"middle"},"encoding":{"text":{"field":"t"}}},
{"data":{"values":[{"i":7.75,"p":1.10563,"t":"22"},{"i":19.95,"p":1.10563,"t":"24"}]},"mark":{"type":"text","font":"Liberation Sans","fontSize":18,"color":"#ffffff","align":"center","baseline":"middle"},"encoding":{"text":{"field":"t"}}},
{"data":{"values":[{"i":2.0,"p":1.1066,"t":"EURUSD,M15  1.10163 1.10230 1.10149 1.10225"},{"i":0.5,"p":1.10511,"t":"1491.2452"}]},"mark":{"type":"text","font":"Liberation Sans","fontSize":5,"color":"#e8e8e8","align":"left","baseline":"middle"},"encoding":{"text":{"field":"t"}}},
{"data":{"values":[{"i":236.8,"p":1.10225}]},"mark":{"type":"point","filled":true,"shape":"M-1,-0.25L1,-0.25L1,0.25L-1,0.25Z","size":484,"color":"#ffffff","opacity":1}}
]
},
{
"width":998,"height":138,
"encoding":{
"x":{"field":"i","type":"quantitative","scale":{"domain":[0,234],"nice":false,"zero":false},"axis":null},
"y":{"field":"v","type":"quantitative","scale":{"domain":[-0.001956,0.003071],"nice":false,"zero":false},"axis":{"orient":"right","values":[-0.001956,0,0.003071],"labelExpr":"datum.value == 0 ? '0.00' : format(datum.value, '.6f')","labelFlush":true,"labelFontSize":4.6,"labelPadding":1,"domain":false}}
},
"layer":[
{"data":{"name":"ct"},"transform":[{"fold":["b"],"as":["s","v"]}],"mark":{"type":"rule","color":"#1a1aff","strokeWidth":1},"encoding":{"y2":{"datum":0}}},
{"data":{"name":"ct"},"transform":[{"fold":["r"],"as":["s","v"]}],"mark":{"type":"rule","color":"#ff1010","strokeWidth":1},"encoding":{"y2":{"datum":0}}},
{"data":{"name":"ct"},"transform":[{"fold":["b"],"as":["s","v"]}],"mark":{"type":"line","color":"#1a1aff","strokeWidth":2}},
{"data":{"name":"ct"},"transform":[{"fold":["r"],"as":["s","v"]}],"mark":{"type":"line","color":"#ff1010","strokeWidth":2}},
{"data":{"values":[{"i":0.3,"v":0.00296,"t":"CloudTrend 0.000711 -0.000886 0.000000 0.000000 0.000000 0.000711 -0.000886"}]},"mark":{"type":"text","font":"Liberation Sans","fontSize":5,"color":"#d8d8d8","align":"left","baseline":"middle"},"encoding":{"text":{"field":"t"}}}
]
},
{
"width":998,"height":79,
"encoding":{
"x":{"field":"i","type":"quantitative","scale":{"domain":[0,234],"nice":false,"zero":false},"axis":{"orient":"bottom","values":[0,8,16,24,32,40,48,56,64,72,80,88,96,104,112,120,128,136,144,152,160,168,176,184],"labelExpr":"datum.value == 0 ? '10 Sep 2019' : utcFormat(utc(2019, 8, 10, 11, 45) + datum.value * 900000, '%d %b %H:%M')","labelAlign":"left","labelOffset":1,"labelPadding":3,"labelFontSize":4.6,"tickSize":3,"domain":false,"labelFlush":false}},
"y":{"field":"v","type":"quantitative","scale":{"domain":[8.9847,69.5353],"nice":false,"zero":false},"axis":{"orient":"right","values":[8.9847,69.5353],"format":".4f","labelFlush":true,"domain":false}}
},
"layer":[
{"data":{"values":[{"i":0,"i2":186,"v":68},{"i":0,"i2":186,"v":50},{"i":0,"i2":186,"v":32}]},"mark":{"type":"rule","color":"#6a6a6a","strokeWidth":1,"strokeDash":[1,2]},"encoding":{"x2":{"field":"i2"}}},
{"data":{"values":[{"i":186.8,"v":68,"t":"68"},{"i":186.8,"v":50,"t":"50"},{"i":186.8,"v":32,"t":"32"}]},"mark":{"type":"text","font":"Liberation Sans","fontSize":5,"color":"#a0a0a0","align":"left","baseline":"middle"},"encoding":{"text":{"field":"t"}}},
{"data":{"name":"tup"},"mark":{"type":"line","color":"#1414a8","strokeWidth":1.2,"interpolate":"monotone"}},
{"data":{"name":"tlo"},"mark":{"type":"line","color":"#1414a8","strokeWidth":1.2,"interpolate":"monotone"}},
{"data":{"name":"tteal"},"mark":{"type":"line","color":"#22b4b4","strokeWidth":1,"strokeDash":[1.5,1.5],"interpolate":"monotone"}},
{"data":{"name":"tred"},"mark":{"type":"line","color":"#c00000","strokeWidth":1.3,"interpolate":"monotone"}},
{"data":{"name":"tgreen"},"mark":{"type":"line","color":"#18a018","strokeWidth":1.5}},
{"data":{"name":"tyel"},"mark":{"type":"line","color":"#f4f400","strokeWidth":2.2,"interpolate":"monotone"}},
{"data":{"values":[{"i":0.3,"v":67.2,"t":"TDIVisual 65.3763 55.1352 44.8940 62.8943 57.5603 55.5129"}]},"mark":{"type":"text","font":"Liberation Sans","fontSize":5,"color":"#d8d8d8","align":"left","baseline":"middle"},"encoding":{"text":{"field":"t"}}},
{"data":{"values":[{"i":219.0,"v":60.9,"t":"Сильный Buy"},{"i":218.0,"v":52.7,"t":"@ 1.10215"},{"i":219.0,"v":40.4,"t":"TDI Trend"},{"i":219.0,"v":31.5,"t":"Сильный UP"}]},"mark":{"type":"text","font":"Liberation Sans","fontSize":11,"color":"#14e014","align":"right","baseline":"middle"},"encoding":{"text":{"field":"t"}}},
{"data":{"values":[{"i":222.2,"v":55.0},{"i":222.2,"v":36.6}]},"mark":{"type":"point","filled":true,"shape":"M0,-1L1,-0.1L0.4,-0.1L0.4,1L-0.4,1L-0.4,-0.1L-1,-0.1Z","size":225,"color":"#00ff00","opacity":1}}
]
}
]
}
